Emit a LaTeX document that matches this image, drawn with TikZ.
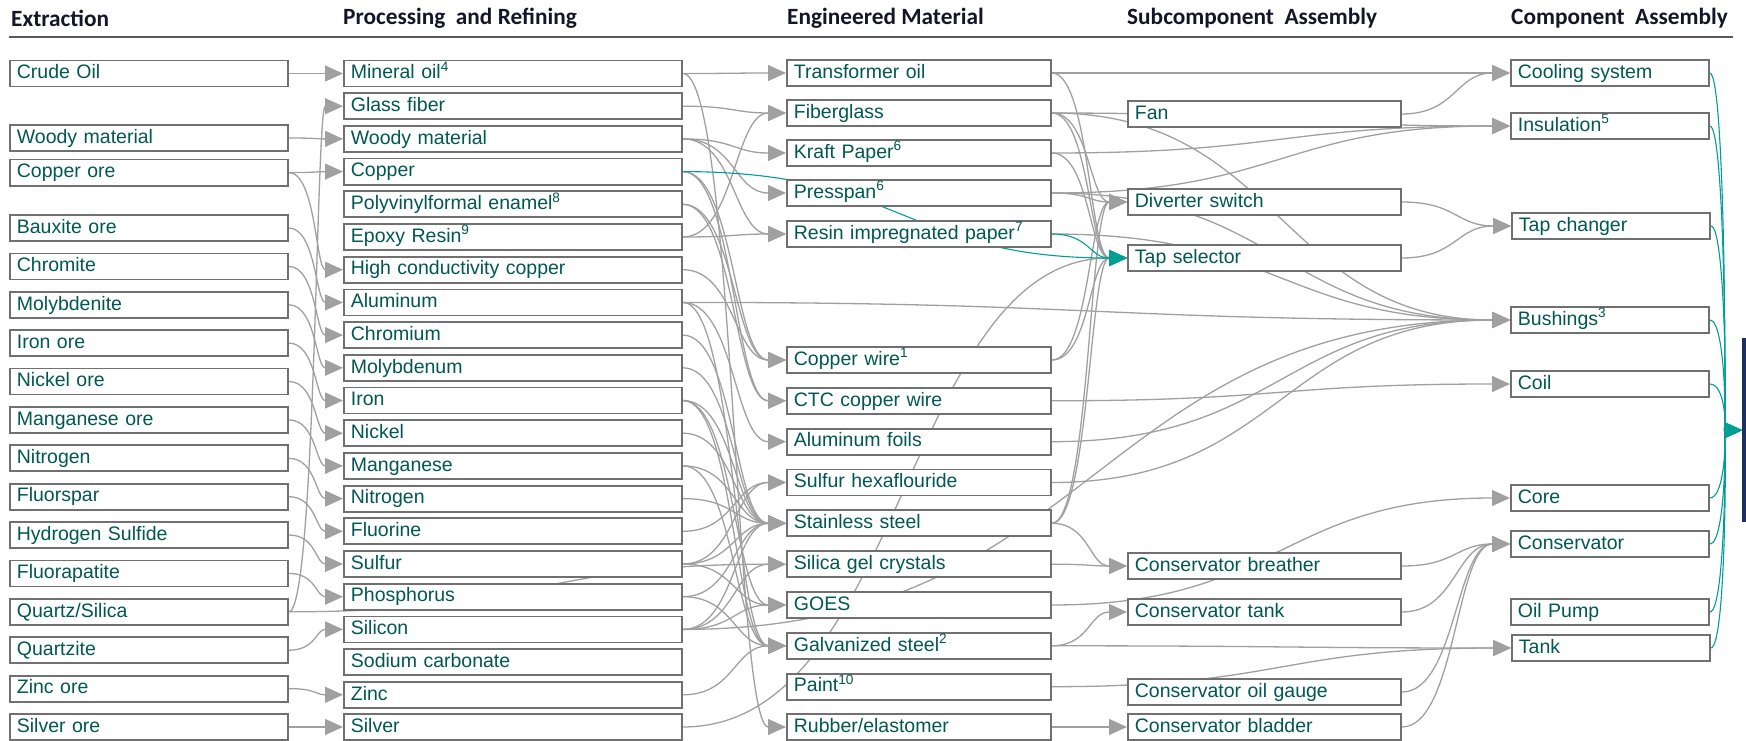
\documentclass[tikz,border=0pt]{standalone}
\usepackage{fontspec}
\setmainfont{Liberation Sans}
\newfontfamily\headfont{Carlito}
\usetikzlibrary{arrows.meta,calc,backgrounds}

\definecolor{boxgray}{RGB}{112,112,112}
\definecolor{linegray}{RGB}{160,160,160}
\definecolor{txtteal}{RGB}{0,88,80}
\definecolor{flowteal}{RGB}{0,158,148}
\definecolor{navy}{RGB}{31,48,94}
\definecolor{headcol}{RGB}{20,22,40}
\definecolor{rulegray}{RGB}{90,90,90}

\begin{document}
\begin{tikzpicture}[x=1pt, y=-1pt,
    box/.style={draw=boxgray, line width=1.8pt, fill=white, text=txtteal,
      font=\fontsize{19.5}{22}\selectfont, anchor=west, align=left,
      minimum height=26pt, inner xsep=7pt, inner ysep=0pt,
      text height=14.5pt, text depth=4pt},
    extbox/.style={box, text width=264pt},
    procbox/.style={box, text width=324pt},
    matbox/.style={box, text width=250pt},
    subbox/.style={box, text width=259pt},
    compbox/.style={box, text width=184pt},
    headtext/.style={anchor=west, inner sep=0pt, text=headcol,
      font=\headfont\bfseries\fontsize{23.3}{27}\selectfont},
    flowline/.style={draw=linegray, line width=1.3pt,
      -{Triangle[length=18pt,width=16pt]},
      to path={let \p1=(\tikztostart), \p2=(\tikztotarget) in
        .. controls ({0.5*\x1+0.5*\x2},\y1) and ({0.5*\x1+0.5*\x2},\y2) .. (\tikztotarget) \tikztonodes}},
    tealline/.style={flowline, draw=flowteal, line width=1.1pt}]
    \useasboundingbox (0,0) rectangle (1746,741);

    % column heads
    \node [headtext] (hExt)  at (11,18)   {Extraction};
    \node [headtext] (hProc) at (343,18)  {Processing\ \ and Refining};
    \node [headtext] (hMat)  at (787,18)  {Engineered Material};
    \node [headtext] (hSub)  at (1127,18) {Subcomponent\ \ Assembly};
    \node [headtext] (hComp) at (1511,18) {Component\ \ Assembly};
    \draw [rulegray, line width=2pt] (9,37) -- (1733,37);

    % extraction
    \node [extbox] (eCrude)     at (9,73.5)  {Crude Oil};
    \node [extbox] (eWood)      at (9,138)   {Woody material};
    \node [extbox] (eCuOre)     at (9,172.6) {Copper ore};
    \node [extbox] (eBaux)      at (9,228)   {Bauxite ore};
    \node [extbox] (eChromite)  at (9,266.4) {Chromite};
    \node [extbox] (eMolyb)     at (9,304.8) {Molybdenite};
    \node [extbox] (eFeOre)     at (9,343.1) {Iron ore};
    \node [extbox] (eNiOre)     at (9,381.5) {Nickel ore};
    \node [extbox] (eMnOre)     at (9,419.9) {Manganese ore};
    \node [extbox] (eN)         at (9,458.3) {Nitrogen};
    \node [extbox] (eFluorspar) at (9,496.7) {Fluorspar};
    \node [extbox] (eHS)        at (9,535.0) {Hydrogen Sulfide};
    \node [extbox] (eFluorap)   at (9,573.4) {Fluorapatite};
    \node [extbox] (eQuartz)    at (9,611.8) {Quartz/Silica};
    \node [extbox] (eQuartzite) at (9,650.2) {Quartzite};
    \node [extbox] (eZnOre)     at (9,688.6) {Zinc ore};
    \node [extbox] (eAgOre)     at (9,727)   {Silver ore};

    % processing and refining
    \node [procbox] (pMinOil) at (343,73.5)  {Mineral oil\textsuperscript{4}};
    \node [procbox] (pGlass)  at (343,106.2) {Glass fiber};
    \node [procbox] (pWood)   at (343,138.9) {Woody material};
    \node [procbox] (pCu)     at (343,171.6) {Copper};
    \node [procbox] (pPVF)    at (343,204.3) {Polyvinylformal enamel\textsuperscript{8}};
    \node [procbox] (pEpoxy)  at (343,237.0) {Epoxy Resin\textsuperscript{9}};
    \node [procbox] (pHCC)    at (343,269.7) {High conductivity copper};
    \node [procbox] (pAl)     at (343,302.4) {Aluminum};
    \node [procbox] (pCr)     at (343,335.1) {Chromium};
    \node [procbox] (pMo)     at (343,367.8) {Molybdenum};
    \node [procbox] (pFe)     at (343,400.5) {Iron};
    \node [procbox] (pNi)     at (343,433.2) {Nickel};
    \node [procbox] (pMn)     at (343,465.9) {Manganese};
    \node [procbox] (pN)      at (343,498.6) {Nitrogen};
    \node [procbox] (pF)      at (343,531.3) {Fluorine};
    \node [procbox] (pS)      at (343,564.0) {Sulfur};
    \node [procbox] (pP)      at (343,596.7) {Phosphorus};
    \node [procbox] (pSi)     at (343,629.4) {Silicon};
    \node [procbox] (pNa)     at (343,662.1) {Sodium carbonate};
    \node [procbox] (pZn)     at (343,694.8) {Zinc};
    \node [procbox] (pAg)     at (343,727)   {Silver};

    % engineered material
    \node [matbox] (mOil)    at (786,73)    {Transformer oil};
    \node [matbox] (mFiber)  at (786,113)   {Fiberglass};
    \node [matbox] (mKraft)  at (786,153)   {Kraft Paper\textsuperscript{6}};
    \node [matbox] (mPress)  at (786,193)   {Presspan\textsuperscript{6}};
    \node [matbox] (mRIP)    at (786,234)   {Resin impregnated paper\textsuperscript{7}};
    \node [matbox] (mWire)   at (786,360)   {Copper wire\textsuperscript{1}};
    \node [matbox] (mCTC)    at (786,400.8) {CTC copper wire};
    \node [matbox] (mFoil)   at (786,441.7) {Aluminum foils};
    \node [matbox] (mSF6)    at (786,482.5) {Sulfur hexaflouride};
    \node [matbox] (mSS)     at (786,523.3) {Stainless steel};
    \node [matbox] (mGel)    at (786,564.2) {Silica gel crystals};
    \node [matbox] (mGOES)   at (786,605)   {GOES};
    \node [matbox] (mGalv)   at (786,645.8) {Galvanized steel\textsuperscript{2}};
    \node [matbox] (mPaint)  at (786,686.7) {Paint\textsuperscript{10}};
    \node [matbox] (mRubber) at (786,727)   {Rubber/elastomer};

    % subcomponent assembly
    \node [subbox] (sFan)     at (1127,114) {Fan};
    \node [subbox] (sDiv)     at (1127,202) {Diverter switch};
    \node [subbox] (sTap)     at (1127,258) {Tap selector};
    \node [subbox] (sBreath)  at (1127,566) {Conservator breather};
    \node [subbox] (sCTank)   at (1127,612) {Conservator tank};
    \node [subbox] (sGauge)   at (1127,692) {Conservator oil gauge};
    \node [subbox] (sBladder) at (1127,727) {Conservator bladder};

    % component assembly
    \node [compbox] (cCool)  at (1510,73)  {Cooling system};
    \node [compbox] (cIns)   at (1510,126) {Insulation\textsuperscript{5}};
    \node [compbox] (cTapCh) at (1511,226) {Tap changer};
    \node [compbox] (cBush)  at (1510,320) {Bushings\textsuperscript{3}};
    \node [compbox] (cCoil)  at (1510,384) {Coil};
    \node [compbox] (cCore)  at (1510,498) {Core};
    \node [compbox] (cCons)  at (1510,544) {Conservator};
    \node [compbox] (cPump)  at (1510,612) {Oil Pump};
    \node [compbox] (cTank)  at (1511,648) {Tank};

    % transformer bar at the right edge
    \node [fill=navy, inner sep=0pt, minimum width=14pt, minimum height=184pt,
      anchor=north west] (xfmr) at (1742,338) {};

    \begin{pgfonlayer}{background}
    % extraction -> processing
    \draw [flowline] (eCrude.east) to (pMinOil.west);
    \draw [flowline] (eWood.east) to (pWood.west);
    \draw [flowline] (eCuOre.east) to (pCu.west);
    \draw [flowline] (eCuOre.east) to (pHCC.west);
    \draw [flowline] (eBaux.east) to (pAl.west);
    \draw [flowline] (eChromite.east) to (pCr.west);
    \draw [flowline] (eMolyb.east) to (pMo.west);
    \draw [flowline] (eFeOre.east) to (pFe.west);
    \draw [flowline] (eNiOre.east) to (pNi.west);
    \draw [flowline] (eMnOre.east) to (pMn.west);
    \draw [flowline] (eN.east) to (pN.west);
    \draw [flowline] (eFluorspar.east) to (pF.west);
    \draw [flowline] (eHS.east) to (pS.west);
    \draw [flowline] (eFluorap.east) to (pP.west);
    \draw [flowline] (eQuartz.east) to (pGlass.west);
    \draw [flowline] (eQuartz.east) to (mGel.west);
    \draw [flowline] (eQuartzite.east) to (pSi.west);
    \draw [flowline] (eZnOre.east) to (pZn.west);
    \draw [flowline] (eAgOre.east) to (pAg.west);

    % processing -> material
    \draw [flowline] (pMinOil.east) to (mOil.west);
    \draw [flowline] (pMinOil.east) to (mRubber.west);
    \draw [flowline] (pGlass.east) to (mFiber.west);
    \draw [flowline] (pWood.east) to (mKraft.west);
    \draw [flowline] (pWood.east) to (mPress.west);
    \draw [flowline] (pWood.east) to (mRIP.west);
    \draw [flowline] (pCu.east) to (mWire.west);
    \draw [flowline] (pCu.east) to (mCTC.west);
    \draw [flowline] (pPVF.east) to (mWire.west);
    \draw [flowline] (pPVF.east) to (mCTC.west);
    \draw [flowline] (pEpoxy.east) to (mRIP.west);
    \draw [flowline] (pEpoxy.east) to (mFiber.west);
    \draw [flowline] (pHCC.east) to (mWire.west);
    \draw [flowline] (pAl.east) to (mFoil.west);
    \draw [flowline] (pAl.east) to (mGalv.west);
    \draw [flowline] (pCr.east) to (mSS.west);
    \draw [flowline] (pMo.east) to (mSS.west);
    \draw [flowline] (pFe.east) to (mSS.west);
    \draw [flowline] (pFe.east) to (mGOES.west);
    \draw [flowline] (pFe.east) to (mGalv.west);
    \draw [flowline] (pNi.east) to (mSS.west);
    \draw [flowline] (pMn.east) to (mSS.west);
    \draw [flowline] (pMn.east) to (mGalv.west);
    \draw [flowline] (pN.east) to (mSS.west);
    \draw [flowline] (pF.east) to (mSF6.west);
    \draw [flowline] (pS.east) to (mSF6.west);
    \draw [flowline] (pS.east) to (mSS.west);
    \draw [flowline] (pS.east) to (mGOES.west);
    \draw [flowline] (pP.east) to (mSS.west);
    \draw [flowline] (pP.east) to (mGalv.west);
    \draw [flowline] (pSi.east) to (mSS.west);
    \draw [flowline] (pSi.east) to (mGel.west);
    \draw [flowline] (pSi.east) to (mGOES.west);
    \draw [flowline] (pZn.east) to (mGalv.west);

    % material -> subcomponent
    \draw [flowline] (mOil.east) to (sTap.west);
    \draw [flowline] (mFiber.east) to (sDiv.west);
    \draw [flowline] (mFiber.east) to (sTap.west);
    \draw [flowline] (mKraft.east) to (sTap.west);
    \draw [flowline] (mPress.east) to (sDiv.west);
    \draw [flowline] (mWire.east) to (sDiv.west);
    \draw [flowline] (mWire.east) to (sTap.west);
    \draw [flowline] (mSS.east) to (sDiv.west);
    \draw [flowline] (mSS.east) to (sTap.west);
    \draw [flowline] (mSS.east) to (sBreath.west);
    \draw [flowline] (mGel.east) to (sBreath.west);
    \draw [flowline] (mGalv.east) to (sCTank.west);
    \draw [flowline] (mRubber.east) to (sBladder.west);
    \draw [flowline] (pAg.east) to (sTap.west);

    % material -> component
    \draw [flowline] (mOil.east) to (cCool.west);
    \draw [flowline] (mFiber.east) to (cIns.west);
    \draw [flowline] (mFiber.east) to (cBush.west);
    \draw [flowline] (mKraft.east) to (cIns.west);
    \draw [flowline] (mPress.east) to (cIns.west);
    \draw [flowline] (mPress.east) to (cBush.west);
    \draw [flowline] (mRIP.east) to (cBush.west);
    \draw [flowline] (pAl.east) to (cBush.west);
    \draw [flowline] (mCTC.east) to (cCoil.west);
    \draw [flowline] (mFoil.east) to (cBush.west);
    \draw [flowline] (mSF6.east) to (cBush.west);
    \draw [flowline] (pSi.east) to (cBush.west);
    \draw [flowline] (mGOES.east) to (cCore.west);
    \draw [flowline] (mGalv.east) to (cTank.west);
    \draw [flowline] (mPaint.east) to (cTank.west);

    % subcomponent -> component
    \draw [flowline] (sFan.east) to (cCool.west);
    \draw [flowline] (sDiv.east) to (cTapCh.west);
    \draw [flowline] (sTap.east) to (cTapCh.west);
    \draw [flowline] (sBreath.east) to (cCons.west);
    \draw [flowline] (sCTank.east) to (cCons.west);
    \draw [flowline] (sGauge.east) to (cCons.west);
    \draw [flowline] (sBladder.east) to (cCons.west);

    % highlighted paths
    \draw [tealline] (pCu.east) to (sTap.west);
    \draw [tealline] (mRIP.east) to (sTap.west);
    \draw [tealline] (cCool.east) to (xfmr.west);
    \draw [tealline] (cIns.east) to (xfmr.west);
    \draw [tealline] (cTapCh.east) to (xfmr.west);
    \draw [tealline] (cBush.east) to (xfmr.west);
    \draw [tealline] (cCoil.east) to (xfmr.west);
    \draw [tealline] (cCore.east) to (xfmr.west);
    \draw [tealline] (cCons.east) to (xfmr.west);
    \draw [tealline] (cPump.east) to (xfmr.west);
    \draw [tealline] (cTank.east) to (xfmr.west);
    \end{pgfonlayer}
\end{tikzpicture}
\end{document}
